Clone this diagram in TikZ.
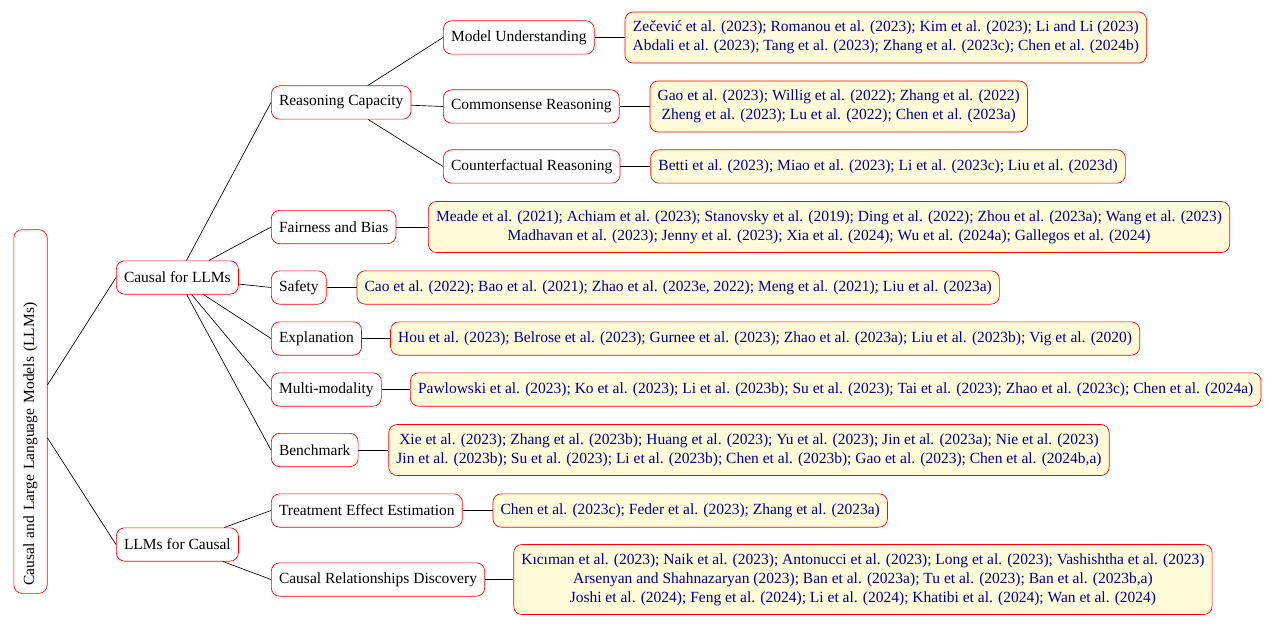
\documentclass[tikz,border=0pt]{standalone}
\usepackage{fontspec}
\setmainfont{Liberation Serif}
\usetikzlibrary{positioning}
\definecolor{leafyellow}{RGB}{255,250,215}
\definecolor{citeblue}{RGB}{0,0,139}

\begin{document}
\begin{tikzpicture}[x=0.6pt,y=-0.6pt,
    box/.style={draw=red,rounded corners=5pt,inner xsep=4.6pt,inner ysep=5.4pt,
      minimum height=20pt,font=\fontsize{9.3}{11.4}\selectfont,align=center},
    cat/.style={box,fill=white,anchor=west},
    leaf/.style={box,fill=leafyellow,text=citeblue}]

\useasboundingbox (0,0) rectangle (1272,626);

% root and first level
\node[box,rotate=90,text width=209pt,align=left] (root) at (30.5,411.5)
  {Causal and Large Language Models (LLMs)};
\node[cat] (c4l) at (116,277.5) {Causal for LLMs};
\node[cat] (l4c) at (116,544.5) {LLMs for Causal};

% second level
\node[cat] (rc)  at (271,102.5) {Reasoning Capacity};
\node[cat] (fb)  at (271,227) {Fairness and Bias};
\node[cat] (sf)  at (271,287.5) {Safety};
\node[cat] (ex)  at (271,338.5) {Explanation};
\node[cat] (mm)  at (271,389.5) {Multi-modality};
\node[cat] (bm)  at (271,450) {Benchmark};
\node[cat] (tee) at (271,510.5) {Treatment Effect Estimation};
\node[cat] (crd) at (271,579.5) {Causal Relationships Discovery};

% third level
\node[cat] (mu) at (443,37.5) {Model Understanding};
\node[cat] (cs) at (443,106.5) {Commonsense Reasoning};
\node[cat] (cf) at (443,166.5) {Counterfactual Reasoning};

% leaves
\node[leaf,right=18pt of mu] (mul) {Zečević et al. (2023); Romanou et al. (2023); Kim et al. (2023); Li and Li (2023)\\
  Abdali et al. (2023); Tang et al. (2023); Zhang et al. (2023c); Chen et al. (2024b)};
\node[leaf,right=18pt of cs] (csl) {Gao et al. (2023); Willig et al. (2022); Zhang et al. (2022)\\
  Zheng et al. (2023); Lu et al. (2022); Chen et al. (2023a)};
\node[leaf,right=18pt of cf] (cfl) {Betti et al. (2023); Miao et al. (2023); Li et al. (2023c); Liu et al. (2023d)};
\node[leaf,right=19pt of fb] (fbl) {Meade et al. (2021); Achiam et al. (2023); Stanovsky et al. (2019); Ding et al. (2022); Zhou et al. (2023a); Wang et al. (2023)\\
  Madhavan et al. (2023); Jenny et al. (2023); Xia et al. (2024); Wu et al. (2024a); Gallegos et al. (2024)};
\node[leaf,right=18pt of sf] (sfl) {Cao et al. (2022); Bao et al. (2021); Zhao et al. (2023e, 2022); Meng et al. (2021); Liu et al. (2023a)};
\node[leaf,right=17pt of ex] (exl) {Hou et al. (2023); Belrose et al. (2023); Gurnee et al. (2023); Zhao et al. (2023a); Liu et al. (2023b); Vig et al. (2020)};
\node[leaf,right=17pt of mm] (mml) {Pawlowski et al. (2023); Ko et al. (2023); Li et al. (2023b); Su et al. (2023); Tai et al. (2023); Zhao et al. (2023c); Chen et al. (2024a)};
\node[leaf,right=18pt of bm] (bml) {Xie et al. (2023); Zhang et al. (2023b); Huang et al. (2023); Yu et al. (2023); Jin et al. (2023a); Nie et al. (2023)\\
  Jin et al. (2023b); Su et al. (2023); Li et al. (2023b); Chen et al. (2023b); Gao et al. (2023); Chen et al. (2024b,a)};
\node[leaf,right=18pt of tee] (teel) {Chen et al. (2023c); Feder et al. (2023); Zhang et al. (2023a)};
\node[leaf,right=17pt of crd] (crdl) {Kıcıman et al. (2023); Naik et al. (2023); Antonucci et al. (2023); Long et al. (2023); Vashishtha et al. (2023)\\
  Arsenyan and Shahnazaryan (2023); Ban et al. (2023a); Tu et al. (2023); Ban et al. (2023b,a)\\
  Joshi et al. (2024); Feng et al. (2024); Li et al. (2024); Khatibi et al. (2024); Wan et al. (2024)};

% edges
\draw (root) -- (c4l.west);
\draw (root) -- (l4c.west);
\foreach \c in {rc,fb,sf,ex,mm,bm}
  \draw (c4l) -- (\c.west);
\foreach \c in {tee,crd}
  \draw (l4c) -- (\c.west);
\foreach \c in {mu,cs,cf}
  \draw (rc) -- (\c.west);
\foreach \c in {mu,cs,cf,fb,sf,ex,mm,bm,tee,crd}
  \draw (\c) -- (\c l.west);

\end{tikzpicture}
\end{document}
